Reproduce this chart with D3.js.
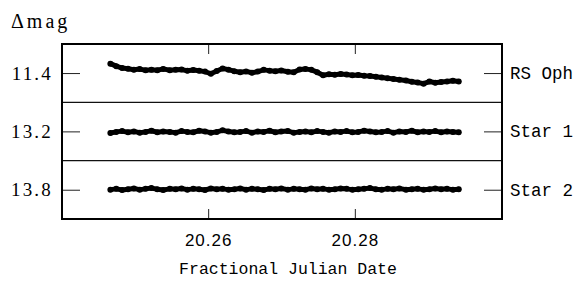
<!DOCTYPE html>
<html><head><meta charset="utf-8">
<script src="https://cdn.jsdelivr.net/npm/d3@7"></script>
<style>body{margin:0;background:#fff}svg{display:block}</style>
</head><body>
<script>
const times = [20.2466,20.2474,20.2482,20.2490,20.2498,20.2506,20.2514,20.2522,20.2530,20.2538,
20.2547,20.2555,20.2563,20.2571,20.2579,20.2587,20.2595,20.2603,20.2611,20.2619,
20.2627,20.2635,20.2643,20.2651,20.2659,20.2667,20.2675,20.2683,20.2691,20.2699,
20.2708,20.2716,20.2724,20.2732,20.2740,20.2748,20.2756,20.2764,20.2772,20.2780,
20.2788,20.2796,20.2804,20.2812,20.2820,20.2828,20.2836,20.2844,20.2852,20.2860,
20.2869,20.2877,20.2885,20.2893,20.2901,20.2909,20.2917,20.2925,20.2933,20.2941];
const rsOph = [11.349,11.362,11.372,11.375,11.380,11.377,11.383,11.380,11.383,11.376,
11.383,11.380,11.379,11.386,11.382,11.386,11.390,11.401,11.387,11.374,
11.380,11.388,11.393,11.389,11.396,11.390,11.381,11.385,11.388,11.384,
11.391,11.393,11.379,11.376,11.381,11.393,11.409,11.404,11.406,11.402,
11.405,11.409,11.407,11.411,11.413,11.416,11.420,11.424,11.428,11.432,
11.436,11.442,11.446,11.452,11.441,11.447,11.443,11.441,11.437,11.441];
const star1 = [13.206,13.200,13.196,13.202,13.198,13.204,13.200,13.194,13.202,13.198,
13.200,13.204,13.196,13.200,13.202,13.194,13.198,13.204,13.200,13.192,
13.198,13.202,13.200,13.196,13.204,13.198,13.200,13.194,13.202,13.198,
13.196,13.204,13.200,13.198,13.202,13.196,13.200,13.204,13.198,13.200,
13.196,13.202,13.200,13.194,13.198,13.202,13.200,13.196,13.204,13.198,
13.200,13.194,13.202,13.198,13.200,13.196,13.202,13.198,13.200,13.202];
const star2 = [13.797,13.793,13.799,13.795,13.791,13.797,13.793,13.789,13.795,13.799,
13.793,13.795,13.791,13.797,13.793,13.795,13.799,13.791,13.795,13.793,
13.797,13.795,13.791,13.797,13.793,13.795,13.799,13.793,13.795,13.791,
13.797,13.793,13.795,13.797,13.791,13.795,13.793,13.797,13.795,13.791,
13.793,13.797,13.795,13.793,13.789,13.795,13.797,13.793,13.795,13.791,
13.797,13.795,13.793,13.797,13.795,13.791,13.795,13.793,13.797,13.795];
const seriesNames = ["RS Oph","Star 1","Star 2"];
const tickValues = [11.4, 13.2, 13.8];
const tickLabels = ["11.4","13.2","13.8"];
const xTicks = [20.26, 20.28];
const xDomain = [20.24, 20.30];

const W = 581, H = 287;
const L = 62, R = 502, T = 44, B = 219;
const svg = d3.select("body").append("svg").attr("width", W).attr("height", H);
const x = d3.scaleLinear().domain(xDomain).range([L, R]);
const ph = (B - T) / 3;
const series = [rsOph, star1, star2];
const serif = "'Liberation Serif', serif";

series.forEach((vals, k) => {
  const top = T + k * ph, bot = top + ph;
  const v = tickValues[k];
  const y = d3.scaleLinear().domain([v - 0.152, v + 0.148]).range([top, bot]);
  const pts = times.map((t, i) => [t, vals[i]]);
  const g = svg.append("g");
  g.append("path").datum(pts)
    .attr("d", d3.line().x(d => x(d[0])).y(d => y(d[1])).curve(d3.curveLinear))
    .attr("fill", "none").attr("stroke", "#000").attr("stroke-width", 5)
    .attr("stroke-linejoin", "round").attr("stroke-linecap", "round");
  g.selectAll("circle").data(pts).join("circle")
    .attr("cx", d => x(d[0])).attr("cy", d => y(d[1])).attr("r", 3).attr("fill", "#000");
  svg.append("line").attr("x1", L).attr("x2", L + 18).attr("y1", y(v)).attr("y2", y(v))
    .attr("stroke", "#222").attr("stroke-width", 1);
  svg.append("line").attr("x1", R - 18).attr("x2", R).attr("y1", y(v)).attr("y2", y(v))
    .attr("stroke", "#222").attr("stroke-width", 1);
  svg.append("text").attr("x", 53).attr("y", y(v) + 6).attr("text-anchor", "end")
    .attr("font-family", serif).attr("font-size", 19).attr("letter-spacing", 2.2)
    .text(tickLabels[k]);
  svg.append("text").attr("x", 510).attr("y", y(v) + 5.5)
    .attr("font-family", "'Liberation Mono', monospace").attr("font-size", 17.5)
    .text(seriesNames[k]);
  if (k > 0) {
    svg.append("line").attr("x1", L).attr("x2", R).attr("y1", top).attr("y2", top)
      .attr("stroke", "#111").attr("stroke-width", 1.1);
  }
});

xTicks.forEach(t => {
  svg.append("line").attr("x1", x(t)).attr("x2", x(t)).attr("y1", B).attr("y2", B - 10)
    .attr("stroke", "#222").attr("stroke-width", 1);
  svg.append("line").attr("x1", x(t)).attr("x2", x(t)).attr("y1", T).attr("y2", T + 10)
    .attr("stroke", "#222").attr("stroke-width", 1);
  svg.append("text").attr("x", x(t)).attr("y", 245.5).attr("text-anchor", "middle")
    .attr("font-family", "'Liberation Sans', sans-serif").attr("font-size", 17).attr("letter-spacing", 1)
    .text(d3.format(".2f")(t));
});

svg.append("rect").attr("x", L).attr("y", T).attr("width", R - L).attr("height", B - T)
  .attr("fill", "none").attr("stroke", "#000").attr("stroke-width", 2);

svg.append("text").attr("x", 11).attr("y", 28)
  .attr("font-family", serif).attr("font-size", 20).attr("letter-spacing", 3)
  .text("Δmag");
svg.append("text").attr("x", 288).attr("y", 274).attr("text-anchor", "middle")
  .attr("font-family", "'Liberation Mono', monospace").attr("font-size", 16.5)
  .text("Fractional Julian Date");
</script>
</body></html>
